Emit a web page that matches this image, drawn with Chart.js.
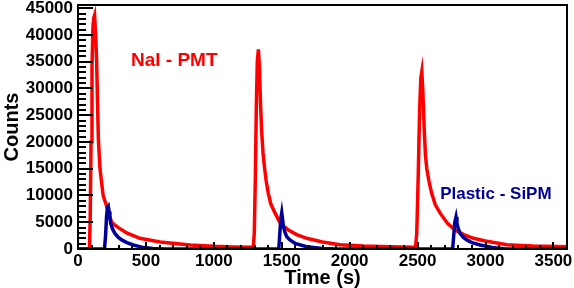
<!DOCTYPE html>
<html>
<head>
<meta charset="utf-8">
<title>NaI - PMT / Plastic - SiPM</title>
<script src="https://cdn.jsdelivr.net/npm/chart.js@4.4.1/dist/chart.umd.min.js"></script>
<style>
  html, body { margin: 0; padding: 0; background: #fff; }
  #wrap { width: 574px; height: 288px; position: relative; }
</style>
</head>
<body>
<div id="wrap"><canvas id="chartCounts"></canvas></div>
<script>
"use strict";

/* NaI - PMT (red) */
var naiTime   = [0, 84, 90, 96, 103, 110, 116, 122, 130, 137, 144, 150, 162, 185, 211, 230, 248, 275, 297, 358, 456, 604, 825, 1000, 1150, 1290,
                 1298, 1306, 1313, 1320, 1328, 1336, 1344, 1352, 1362, 1372, 1385, 1401, 1420, 1451, 1490, 1549, 1610, 1684, 1800, 1930, 2100, 2300, 2485,
                 2494, 2505, 2515, 2524, 2531, 2538, 2545, 2550, 2558, 2568, 2585, 2604, 2630, 2666, 2720, 2776, 2840, 2911, 3000, 3157, 3350, 3600];
var naiCounts = [0, 0, 6000, 20000, 34000, 41500, 43200, 43700, 40000, 35300, 27000, 20500, 15000, 10000, 8000, 6300, 5000, 4400, 4000, 3000, 2000, 1300, 750, 500, 380, 320,
                 3000, 14000, 27000, 35000, 37300, 34000, 27000, 22000, 18000, 15500, 12800, 10400, 8400, 6700, 4800, 3550, 2700, 2000, 1300, 800, 550, 400, 320,
                 3000, 14000, 26000, 32000, 33100, 30000, 25000, 21700, 17500, 15000, 12500, 10400, 8300, 6700, 4800, 3550, 2700, 2000, 1500, 800, 550, 400];

/* Plastic - SiPM (blue) */
var sipmTime   = [0, 195, 203, 210, 217, 223, 229, 235, 241, 255, 272, 295, 322, 360, 407, 470, 550, 650,
                  1478, 1485, 1492, 1500, 1506, 1512, 1524, 1537, 1560, 1598, 1684, 1800, 1900,
                  2758, 2766, 2774, 2783, 2790, 2800, 2813, 2835, 2862, 2900, 2960, 3050, 3150, 3600];
var sipmCounts = [0, 0, 2500, 6000, 7800, 8000, 7000, 5800, 4800, 3700, 2900, 2200, 1700, 1200, 750, 350, 100, 0,
                  0, 2500, 5500, 6800, 5600, 4200, 3100, 2300, 1700, 1060, 430, 100, 0,
                  0, 2500, 5000, 6000, 4800, 3800, 2900, 2200, 1700, 1200, 750, 300, 0, 0];

var xTicks = [0, 500, 1000, 1500, 2000, 2500, 3000, 3500];
var yTicks = [0, 5000, 10000, 15000, 20000, 25000, 30000, 35000, 40000, 45000];

var labelNai  = 'NaI - PMT';
var labelSipm = 'Plastic - SiPM';

function toPoints(xs, ys) {
  return xs.map(function (x, i) { return { x: x, y: ys[i] }; });
}

/* ROOT style frame with inward ticks (major + minor) and the two labels */
var frameTicks = {
  id: 'frameTicks',
  afterDraw: function (chart) {
    var ctx = chart.ctx, a = chart.chartArea;
    var sx = chart.scales.x, sy = chart.scales.y;
    var i, px, py, len;
    ctx.save();
    ctx.fillStyle = '#000';
    for (i = 0; i <= 36; i++) {
      px = Math.round(sx.getPixelForValue(i * 100));
      len = (i % 5 === 0) ? 7 : 4;
      ctx.fillRect(px - 1, a.bottom - len, 2, len);
    }
    for (i = 0; i <= 45; i++) {
      py = Math.round(sy.getPixelForValue(i * 1000));
      len = (i % 5 === 0) ? 15 : 8;
      ctx.fillRect(a.left, py - 1, len, 2);
    }
    ctx.strokeStyle = '#000';
    ctx.lineWidth = 2;
    ctx.strokeRect(a.left, a.top, a.right - a.left, a.bottom - a.top);

    ctx.textAlign = 'left';
    ctx.textBaseline = 'middle';
    ctx.font = "bold 19px 'Liberation Sans', Arial, sans-serif";
    ctx.fillStyle = '#ff0000';
    ctx.fillText(labelNai, sx.getPixelForValue(390), sy.getPixelForValue(35100));
    ctx.font = "bold 17px 'Liberation Sans', Arial, sans-serif";
    ctx.fillStyle = '#000099';
    ctx.fillText(labelSipm, sx.getPixelForValue(2666), sy.getPixelForValue(10300));
    ctx.restore();
  }
};

var tickFont = { family: "'Liberation Sans', Arial, sans-serif", size: 17, weight: 'bold' };
var titleFont = { family: "'Liberation Sans', Arial, sans-serif", size: 20, weight: 'bold', lineHeight: 1 };
function plainLabel(v) { return String(v); }

new Chart(document.getElementById('chartCounts'), {
  type: 'line',
  data: {
    datasets: [{
      label: labelSipm,
      data: toPoints(sipmTime, sipmCounts),
      borderColor: '#000099',
      borderWidth: 3.5,
      pointRadius: 0,
      tension: 0,
      fill: false
    }, {
      label: labelNai,
      data: toPoints(naiTime, naiCounts),
      borderColor: '#ff0000',
      borderWidth: 3.5,
      pointRadius: 0,
      tension: 0,
      fill: false
    }]
  },
  options: {
    responsive: true,
    maintainAspectRatio: false,
    animation: false,
    devicePixelRatio: 1,
    layout: { padding: { top: 5, right: 7, bottom: 0, left: 0 } },
    plugins: {
      legend: { display: false },
      tooltip: { enabled: false }
    },
    scales: {
      x: {
        type: 'linear',
        min: 0,
        max: 3600,
        grid: { display: false, drawTicks: false },
        border: { display: false },
        afterBuildTicks: function (s) { s.ticks = xTicks.map(function (v) { return { value: v }; }); },
        afterFit: function (s) { s.height = 39; s.paddingLeft = 0; s.paddingRight = 0; },
        ticks: { color: '#000', font: tickFont, padding: 2, maxRotation: 0, autoSkip: false, callback: plainLabel },
        title: { display: true, text: 'Time (s)', color: '#000', font: titleFont, padding: 0 }
      },
      y: {
        min: 0,
        max: 45600,
        grid: { display: false, drawTicks: false },
        border: { display: false },
        afterBuildTicks: function (s) { s.ticks = yTicks.map(function (v) { return { value: v }; }); },
        afterFit: function (s) { s.width = 78; s.paddingTop = 0; s.paddingBottom = 0; },
        ticks: { color: '#000', font: tickFont, padding: 5, autoSkip: false, callback: plainLabel },
        title: { display: true, text: 'Counts', color: '#000', font: titleFont, padding: { top: 2, bottom: 0 } }
      }
    }
  },
  plugins: [frameTicks]
});
</script>
</body>
</html>
